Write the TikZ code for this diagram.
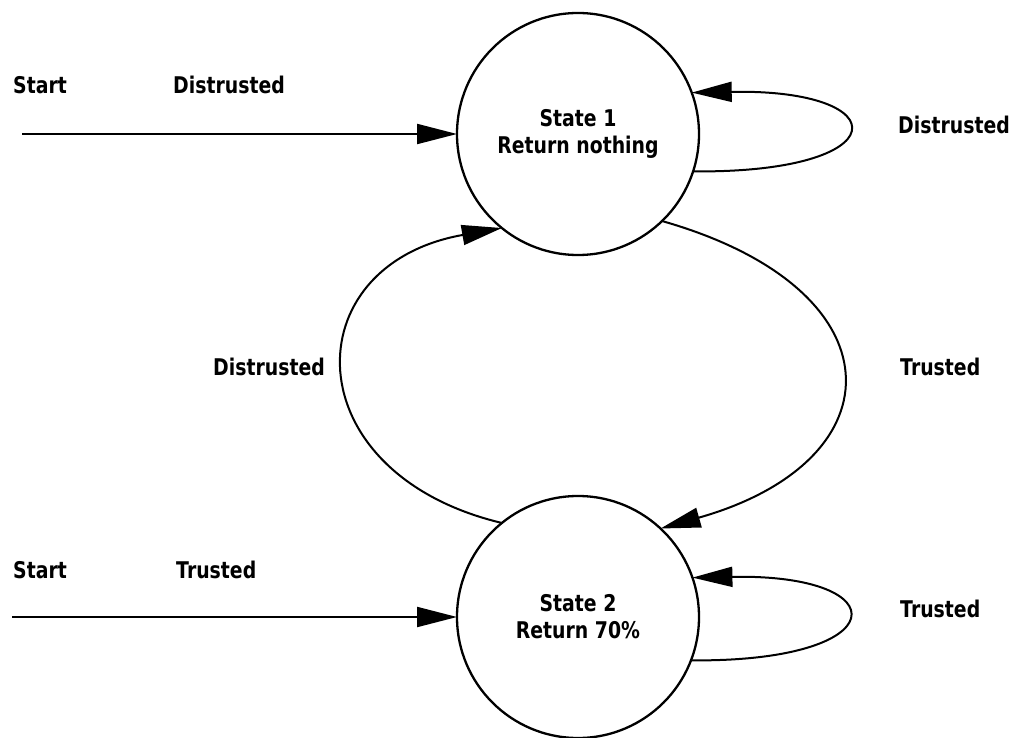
\documentclass[tikz,border=0pt]{standalone}
\usepackage{fontspec}
\newfontfamily\lblfont[FakeStretch=0.82]{DejaVu Sans}
\usetikzlibrary{arrows.meta}
\begin{document}
\begin{tikzpicture}[x=1pt,y=-1pt,
  every node/.style={font=\lblfont\bfseries\fontsize{23}{27}\selectfont},
  statenode/.style={circle,draw,line width=2.3pt,minimum size=242pt,inner sep=0pt,outer sep=0pt,align=center},
  lbl/.style={anchor=west,inner sep=0pt},
  conn/.style={line width=2pt,-{Triangle[length=40pt,width=20pt]}}]
  \useasboundingbox (0,0) rectangle (1020,738);

  % states
  \node[statenode] (s1) at (578,134) {State 1\\Return nothing};
  \node[statenode] (s2) at (578,617) {State 2\\Return 70\%};

  % entry points
  \coordinate (in1) at (22,134);
  \coordinate (in2) at (12,617);
  \draw[conn] (in1) -- (s1.180);
  \draw[conn] (in2) -- (s2.180);

  % self loops
  \draw[conn] (s1.-18) .. controls +(205,2) and +(207,-4) .. (s1.20);
  \draw[conn] (s2.-21) .. controls +(205,2) and +(207,-4) .. (s2.19);

  % transitions between the states
  \draw[conn] (s2.129) .. controls +(-209,-50) and +(-209,37) .. (s1.231);
  \draw[conn] (s1.-46) .. controls +(239,68) and +(240,-68) .. (s2.47);

  % labels
  \node[lbl] (startA) at (13,85) {Start};
  \node[lbl] (inA) at (173,85) {Distrusted};
  \node[lbl] (loopA) at (898,125) {Distrusted};
  \node[lbl] (downL) at (213,367) {Distrusted};
  \node[lbl] (upR) at (900,367) {Trusted};
  \node[lbl] (startB) at (13,570) {Start};
  \node[lbl] (inB) at (176,570) {Trusted};
  \node[lbl] (loopB) at (900,609) {Trusted};
\end{tikzpicture}
\end{document}
